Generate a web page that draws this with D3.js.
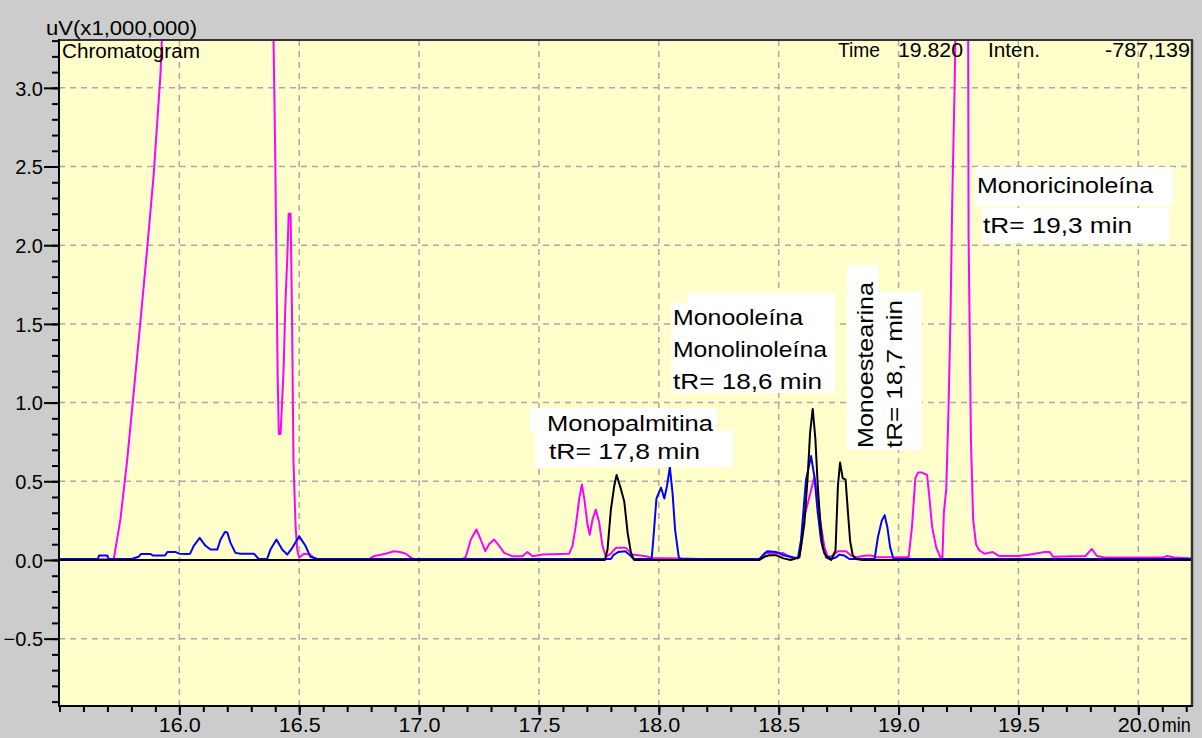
<!DOCTYPE html>
<html><head><meta charset="utf-8">
<script src="https://cdn.jsdelivr.net/npm/d3@7"></script>
<style>
html,body{margin:0;padding:0;background:#cccccc;}
svg{display:block;font-family:"Liberation Sans",Arial,sans-serif;}
</style></head>
<body><svg id="chart" width="1202" height="738"></svg>
<script>
// ---- data (time in min, intensity in uV x 1,000,000) ----
const magenta = [
[15.498,0.004],[15.72,0.004],[15.727,0.01],[15.754,0.256],[15.782,0.63],[15.81,1.07],[15.837,1.505],[15.865,1.965],[15.893,2.45],[15.921,3.08],[15.935,3.6],[16.39,3.6],[16.40,2.57],[16.41,1.18],[16.415,0.80],[16.422,0.80],[16.426,0.92],[16.435,1.22],[16.442,1.61],[16.451,1.95],[16.456,2.2],[16.464,2.2],[16.47,1.55],[16.476,0.63],[16.485,0.21],[16.492,0.06],[16.50,0.015],[16.52,0.04],[16.545,0.035],[16.56,0.015],[16.58,0.004],[16.79,0.004],[16.81,0.023],[16.86,0.04],[16.895,0.055],[16.92,0.05],[16.945,0.04],[16.97,0.01],[16.99,0.004],[17.181,0.004],[17.195,0.02],[17.216,0.13],[17.239,0.194],[17.257,0.13],[17.276,0.056],[17.292,0.10],[17.313,0.13],[17.334,0.09],[17.355,0.045],[17.39,0.023],[17.431,0.023],[17.452,0.05],[17.473,0.023],[17.515,0.034],[17.626,0.04],[17.64,0.09],[17.654,0.22],[17.668,0.39],[17.679,0.48],[17.689,0.39],[17.703,0.22],[17.712,0.16],[17.724,0.26],[17.737,0.32],[17.751,0.24],[17.765,0.09],[17.779,0.02],[17.80,0.04],[17.821,0.077],[17.863,0.077],[17.89,0.034],[17.946,0.023],[17.974,0.012],[18.141,0.008],[18.2,0.004],[18.42,0.004],[18.447,0.045],[18.517,0.045],[18.558,0.01],[18.586,0.017],[18.607,0.275],[18.628,0.40],[18.649,0.53],[18.663,0.38],[18.677,0.21],[18.691,0.08],[18.705,0.017],[18.726,0.028],[18.747,0.056],[18.781,0.056],[18.802,0.028],[18.823,0.017],[18.865,0.028],[18.886,0.028],[18.907,0.017],[19.042,0.017],[19.056,0.21],[19.070,0.52],[19.081,0.555],[19.098,0.555],[19.119,0.54],[19.129,0.39],[19.140,0.21],[19.157,0.08],[19.175,0.015],[19.183,0.015],[19.189,0.30],[19.199,0.45],[19.208,0.94],[19.217,1.57],[19.224,2.29],[19.234,3.02],[19.240,3.6],[19.29,3.6],[19.292,2.07],[19.302,0.76],[19.311,0.26],[19.323,0.10],[19.337,0.06],[19.358,0.04],[19.393,0.05],[19.42,0.025],[19.5,0.025],[19.55,0.035],[19.61,0.05],[19.631,0.05],[19.645,0.02],[19.78,0.025],[19.806,0.07],[19.827,0.025],[19.86,0.015],[20.10,0.015],[20.12,0.025],[20.15,0.015],[20.224,0.01]
];
const blue = [
[15.498,0.006],[15.66,0.006],[15.665,0.028],[15.70,0.028],[15.705,0.006],[15.80,0.006],[15.83,0.02],[15.84,0.038],[15.88,0.038],[15.89,0.028],[15.94,0.028],[15.95,0.05],[15.985,0.05],[16.0,0.04],[16.033,0.038],[16.045,0.04],[16.06,0.09],[16.085,0.14],[16.109,0.09],[16.13,0.066],[16.158,0.066],[16.172,0.13],[16.19,0.177],[16.2,0.175],[16.213,0.11],[16.234,0.045],[16.255,0.04],[16.311,0.04],[16.331,0.006],[16.366,0.006],[16.38,0.066],[16.405,0.13],[16.429,0.066],[16.45,0.034],[16.471,0.077],[16.50,0.15],[16.526,0.09],[16.547,0.02],[16.575,0.006],[17.80,0.006],[17.81,0.03],[17.83,0.05],[17.86,0.056],[17.88,0.03],[17.895,0.006],[17.97,0.006],[17.977,0.13],[17.99,0.39],[18.009,0.46],[18.023,0.39],[18.034,0.47],[18.046,0.59],[18.057,0.43],[18.068,0.19],[18.083,0.02],[18.09,0.006],[18.42,0.006],[18.44,0.04],[18.454,0.056],[18.49,0.05],[18.52,0.03],[18.55,0.02],[18.58,0.01],[18.593,0.125],[18.614,0.51],[18.635,0.66],[18.649,0.53],[18.663,0.30],[18.677,0.12],[18.691,0.04],[18.719,0.006],[18.74,0.017],[18.753,0.034],[18.774,0.028],[18.795,0.006],[18.9,0.006],[18.914,0.146],[18.93,0.25],[18.942,0.285],[18.953,0.21],[18.965,0.08],[18.979,0.006],[20.224,0.006]
];
const black = [
[15.498,0],[17.775,0],[17.786,0.066],[17.80,0.32],[17.814,0.47],[17.824,0.54],[17.842,0.45],[17.856,0.37],[17.87,0.17],[17.884,0.045],[17.897,0],[18.42,0],[18.44,0.02],[18.46,0.03],[18.49,0.03],[18.52,0.01],[18.55,0],[18.586,0.017],[18.593,0.08],[18.607,0.23],[18.621,0.53],[18.631,0.81],[18.642,0.96],[18.653,0.77],[18.663,0.47],[18.673,0.25],[18.684,0.08],[18.698,0.017],[18.719,0],[18.737,0.06],[18.747,0.47],[18.756,0.62],[18.767,0.52],[18.779,0.51],[18.788,0.32],[18.798,0.12],[18.809,0.028],[18.823,0.006],[18.85,0],[20.224,0]
];
const yTicks = [-0.5,0.0,0.5,1.0,1.5,2.0,2.5,3.0];
const xTicks = [16.0,16.5,17.0,17.5,18.0,18.5,19.0,19.5,20.0];
const xDomain = [15.498, 20.224];
const yDomain = [-0.928, 3.304];

// ---- layout ----
const L=59, T=40, R=1192, B=706;
const svg = d3.select("#chart");
const x = d3.scaleLinear().domain(xDomain).range([L,R]);
const y = d3.scaleLinear().domain(yDomain).range([B,T]);

svg.append("rect").attr("width",1202).attr("height",738).attr("fill","#cccccc");
svg.append("rect").attr("x",L).attr("y",T).attr("width",R-L).attr("height",B-T).attr("fill","#ffffcc");

svg.append("defs").append("clipPath").attr("id","clip")
  .append("rect").attr("x",L).attr("y",T).attr("width",R-L).attr("height",B-T);

// grid
const grid = svg.append("g").attr("stroke","#a9a9a9").attr("stroke-width",1.5).attr("stroke-dasharray","6,5");
grid.selectAll(".gy").data(yTicks.filter(d=>d!==0)).join("line")
  .attr("x1",L).attr("x2",R).attr("y1",d=>y(d)).attr("y2",d=>y(d));
grid.selectAll(".gx").data(xTicks).join("line")
  .attr("y1",T).attr("y2",B).attr("x1",d=>x(d)).attr("x2",d=>x(d));

// traces
const line = d3.line().x(d=>x(d[0])).y(d=>y(d[1]));
const tg = svg.append("g").attr("clip-path","url(#clip)").attr("fill","none").attr("stroke-width",2).attr("stroke-linejoin","round");
[[magenta,"#ff00ff"],[blue,"#0000ff"],[black,"#000000"]].forEach(([d,c])=>{
  tg.append("path").datum(d).attr("d",line).attr("stroke",c);
});

// annotations
const ann = svg.append("g");
function box(x0,y0,x1,y1){ ann.append("rect").attr("x",x0).attr("y",y0).attr("width",x1-x0).attr("height",y1-y0).attr("fill","#ffffff"); }
function label(t,xx,yy,w,rot){
  const e = ann.append("text").text(t).attr("font-size",22).attr("fill","#000")
    .attr("textLength",w).attr("lengthAdjust","spacingAndGlyphs");
  if(rot) e.attr("transform",`translate(${xx},${yy}) rotate(-90)`);
  else e.attr("x",xx).attr("y",yy);
}
box(530,408,717,432); box(535,430,733,467);
label("Monopalmitina",547,431,166); label("tR= 17,8 min",549,459,151);
box(687,293,835,305); box(671,303,835,393);
label("Monooleína",673,325,130); label("Monolinoleína",673,357,154); label("tR= 18,6 min",673,389,149);
box(847,265,878,450); box(878,292,922,450);
label("Monoestearina",873,448,166,true); label("tR= 18,7 min",902,448,148,true);
box(975,167,1173,206); box(982,208,1169,243);
label("Monoricinoleína",977,193,176); label("tR= 19,3 min",983,233,149);

// frame
svg.append("line").attr("x1",L).attr("x2",R+1).attr("y1",T).attr("y2",T).attr("stroke","#333").attr("stroke-width",2);
svg.append("line").attr("x1",R).attr("x2",R).attr("y1",T).attr("y2",B).attr("stroke","#333").attr("stroke-width",2.5);

// axes
const yMajor = svg.append("g").attr("transform",`translate(${L},0)`)
  .call(d3.axisLeft(y).tickValues(yTicks).tickSize(15).tickPadding(1).tickFormat(d3.format(".1f")));
const yMinor = svg.append("g").attr("transform",`translate(${L},0)`)
  .call(d3.axisLeft(y).tickValues(d3.range(-9,34).map(i=>i/10)).tickSize(7).tickFormat(""));
const xMajor = svg.append("g").attr("transform",`translate(0,${B})`)
  .call(d3.axisBottom(x).tickValues(xTicks).tickSize(9).tickPadding(2).tickFormat(d3.format(".1f")));
const xMinor = svg.append("g").attr("transform",`translate(0,${B})`)
  .call(d3.axisBottom(x).tickValues(d3.range(155,203).map(i=>i/10)).tickSize(6).tickFormat(""));
[yMajor,yMinor,xMajor,xMinor].forEach(g=>{
  g.select(".domain").remove();
  g.selectAll(".tick line").attr("stroke","#000").attr("stroke-width",2);
  g.selectAll("text").attr("fill","#000").attr("font-family","'Liberation Sans',Arial,sans-serif");
});
yMajor.selectAll("text").attr("font-size",20).attr("dy","0.36em");
xMajor.selectAll("text").attr("font-size",21).attr("textLength",42).attr("lengthAdjust","spacingAndGlyphs").attr("dy",null).attr("y",26);
// "min" unit after last tick label
const lastT = xMajor.selectAll(".tick").filter(d=>d===xTicks[xTicks.length-1]);
lastT.append("text").text("min").attr("x",23).attr("y",26).attr("font-size",21).attr("fill","#000")
  .attr("text-anchor","start").attr("textLength",29).attr("lengthAdjust","spacingAndGlyphs");

svg.append("line").attr("x1",L).attr("x2",L).attr("y1",T-1).attr("y2",B+1).attr("stroke","#000").attr("stroke-width",2);
svg.append("line").attr("x1",L).attr("x2",R+1).attr("y1",B).attr("y2",B).attr("stroke","#000").attr("stroke-width",2);

// header texts
function htxt(t,xx,yy,w,anchor){
  svg.append("text").text(t).attr("x",xx).attr("y",yy).attr("font-size",20).attr("fill","#000")
    .attr("text-anchor",anchor||"start").attr("textLength",w).attr("lengthAdjust","spacingAndGlyphs");
}
htxt("uV(x1,000,000)",46,35,151);
htxt("Chromatogram",62,58,138);
htxt("Time",838,57,42);
htxt("19.820",898,57,65);
htxt("Inten.",988,57,52);
htxt("-787,139",1105,57,85);
</script></body></html>
